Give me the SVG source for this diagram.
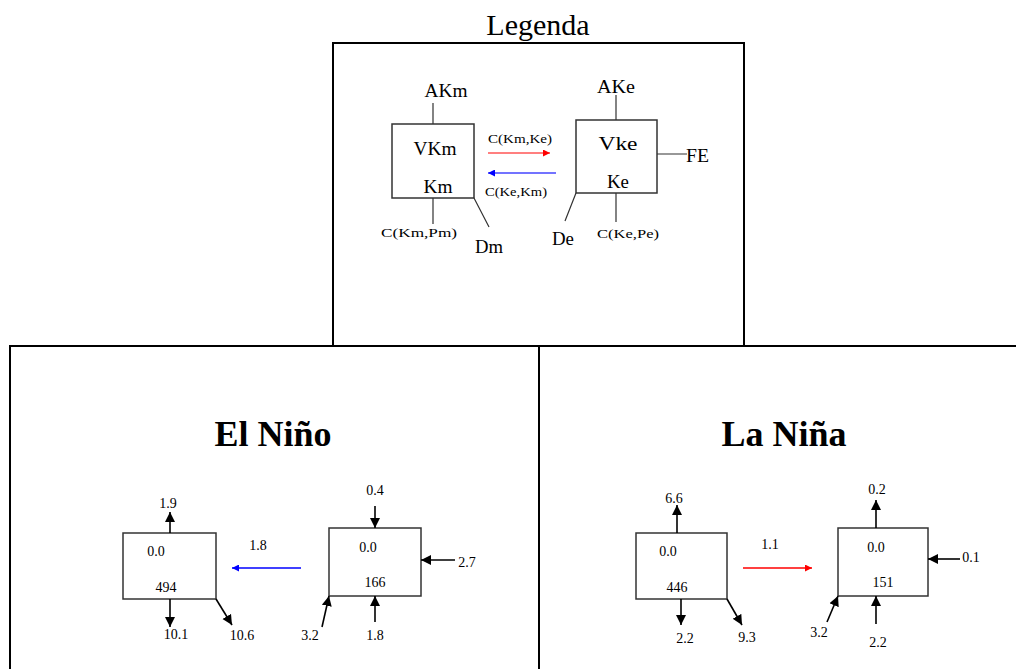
<svg xmlns="http://www.w3.org/2000/svg" width="1016" height="669" viewBox="0 0 1016 669">
<defs>
<style>
text{font-family:"Liberation Serif","Times New Roman",serif;fill:#000}
.lg{font-size:18px;text-anchor:middle}
.sm{font-size:13px;text-anchor:middle}
.num{font-size:14px;text-anchor:middle}
.ttl{font-size:36px;font-weight:bold;text-anchor:middle}
.frame{fill:none;stroke:#000;stroke-width:2}
.box{fill:#fff;stroke:#333;stroke-width:1.5}
.tick{stroke:#333;stroke-width:1.2;fill:none}
.arr{stroke:#000;stroke-width:1.6;fill:none;marker-end:url(#ah)}
</style>
<marker id="ah" viewBox="0 0 10 10" refX="10" refY="5" markerUnits="userSpaceOnUse" markerWidth="10" markerHeight="11" orient="auto"><path d="M0,0 L10,5 L0,10 z" fill="#000"/></marker>
<marker id="ahr" viewBox="0 0 10 10" refX="10" refY="5" markerUnits="userSpaceOnUse" markerWidth="8" markerHeight="7" orient="auto"><path d="M0,0 L10,5 L0,10 z" fill="#f00"/></marker>
<marker id="ahb" viewBox="0 0 10 10" refX="10" refY="5" markerUnits="userSpaceOnUse" markerWidth="8" markerHeight="7" orient="auto"><path d="M0,0 L10,5 L0,10 z" fill="#00f"/></marker>
</defs>
<rect width="1016" height="669" fill="#fff"/>

<g id="frames">
<path class="frame" d="M333,345 V43 H744 V345"/>
<path class="frame" d="M10,669 V346 H1018"/>
<path class="frame" d="M539,346 V669"/>
</g>
<text x="538" y="35" style="font-size:30px;text-anchor:middle">Legenda</text>

<g id="legend-Km">
<rect class="box" x="392" y="124" width="82" height="74"/>
<text class="lg" x="435" y="155" textLength="43" lengthAdjust="spacingAndGlyphs">VKm</text>
<text class="lg" x="438" y="193" textLength="29" lengthAdjust="spacingAndGlyphs">Km</text>
</g>
<g id="legend-Ke">
<rect class="box" x="576" y="120" width="81" height="73"/>
<text class="lg" x="618" y="150" textLength="39" lengthAdjust="spacingAndGlyphs">Vke</text>
<text class="lg" x="618" y="188" textLength="22" lengthAdjust="spacingAndGlyphs">Ke</text>
</g>
<g id="legend-labels">
<text class="lg" x="446" y="97" textLength="43" lengthAdjust="spacingAndGlyphs">AKm</text>
<text class="sm" x="419" y="237" textLength="76" lengthAdjust="spacingAndGlyphs">C(Km,Pm)</text>
<text class="lg" x="489" y="253" textLength="28" lengthAdjust="spacingAndGlyphs">Dm</text>
<text class="sm" x="520" y="143" textLength="64" lengthAdjust="spacingAndGlyphs">C(Km,Ke)</text>
<text class="sm" x="516" y="196" textLength="62" lengthAdjust="spacingAndGlyphs">C(Ke,Km)</text>
<text class="lg" x="616" y="93" textLength="38" lengthAdjust="spacingAndGlyphs">AKe</text>
<text class="lg" x="686" y="162" style="text-anchor:start" textLength="23" lengthAdjust="spacingAndGlyphs">FE</text>
<text class="lg" x="563" y="245" textLength="22" lengthAdjust="spacingAndGlyphs">De</text>
<text class="sm" x="628" y="238" textLength="62" lengthAdjust="spacingAndGlyphs">C(Ke,Pe)</text>
</g>
<g id="legend-connectors">
<path class="tick" d="M433,103 V124 M433,198 V224 M474,198 L489,227"/>
<path class="tick" d="M616,95 V120 M616,193 V222 M576,193 L565,221 M657,154 H687"/>
<line x1="488" y1="153" x2="550" y2="153" stroke="#f55" stroke-width="1.3" marker-end="url(#ahr)"/>
<line x1="556" y1="173" x2="488" y2="173" stroke="#44f" stroke-width="1.3" marker-end="url(#ahb)"/>
</g>

<text class="ttl" x="273" y="446">El Niño</text>
<text class="ttl" x="784" y="446">La Niña</text>

<g id="elnino-m">
<rect class="box" x="123" y="533" width="93" height="66"/>
<text class="num" x="156" y="556">0.0</text>
<text class="num" x="166" y="592">494</text>
</g>
<g id="elnino-e">
<rect class="box" x="329" y="528" width="92" height="68"/>
<text class="num" x="368" y="552">0.0</text>
<text class="num" x="375" y="587">166</text>
</g>
<g id="elnino-connectors">
<line class="arr" x1="170" y1="533" x2="170" y2="512"/>
<line class="arr" x1="170" y1="599" x2="170" y2="627"/>
<line class="arr" x1="216" y1="599" x2="232" y2="625"/>
<line x1="301" y1="568" x2="232" y2="568" stroke="#00f" stroke-width="1.3" marker-end="url(#ahb)"/>
<line class="arr" x1="375" y1="506" x2="375" y2="528"/>
<line class="arr" x1="455" y1="560" x2="421" y2="560"/>
<line class="arr" x1="322" y1="627" x2="329" y2="596"/>
<line class="arr" x1="375" y1="622" x2="375" y2="596"/>
</g>
<g id="elnino-labels">
<text class="num" x="168" y="508">1.9</text>
<text class="num" x="176" y="639">10.1</text>
<text class="num" x="242" y="640">10.6</text>
<text class="num" x="258" y="550">1.8</text>
<text class="num" x="375" y="495">0.4</text>
<text class="num" x="467" y="567">2.7</text>
<text class="num" x="310" y="640">3.2</text>
<text class="num" x="375" y="640">1.8</text>
</g>

<g id="lanina-m">
<rect class="box" x="636" y="533" width="91" height="66"/>
<text class="num" x="668" y="556">0.0</text>
<text class="num" x="677" y="592">446</text>
</g>
<g id="lanina-e">
<rect class="box" x="838" y="528" width="90" height="68"/>
<text class="num" x="876" y="552">0.0</text>
<text class="num" x="883" y="587">151</text>
</g>
<g id="lanina-connectors">
<line class="arr" x1="677" y1="533" x2="677" y2="505"/>
<line class="arr" x1="681" y1="599" x2="681" y2="625"/>
<line class="arr" x1="727" y1="599" x2="742" y2="625"/>
<line x1="743" y1="568" x2="812" y2="568" stroke="#f00" stroke-width="1.3" marker-end="url(#ahr)"/>
<line class="arr" x1="876" y1="528" x2="876" y2="500"/>
<line class="arr" x1="960" y1="559" x2="928" y2="559"/>
<line class="arr" x1="827" y1="622" x2="838" y2="596"/>
<line class="arr" x1="876" y1="624" x2="876" y2="596"/>
</g>
<g id="lanina-labels">
<text class="num" x="674" y="503">6.6</text>
<text class="num" x="685" y="643">2.2</text>
<text class="num" x="747" y="642">9.3</text>
<text class="num" x="770" y="549">1.1</text>
<text class="num" x="877" y="494">0.2</text>
<text class="num" x="971" y="562">0.1</text>
<text class="num" x="819" y="637">3.2</text>
<text class="num" x="878" y="647">2.2</text>
</g>
</svg>
